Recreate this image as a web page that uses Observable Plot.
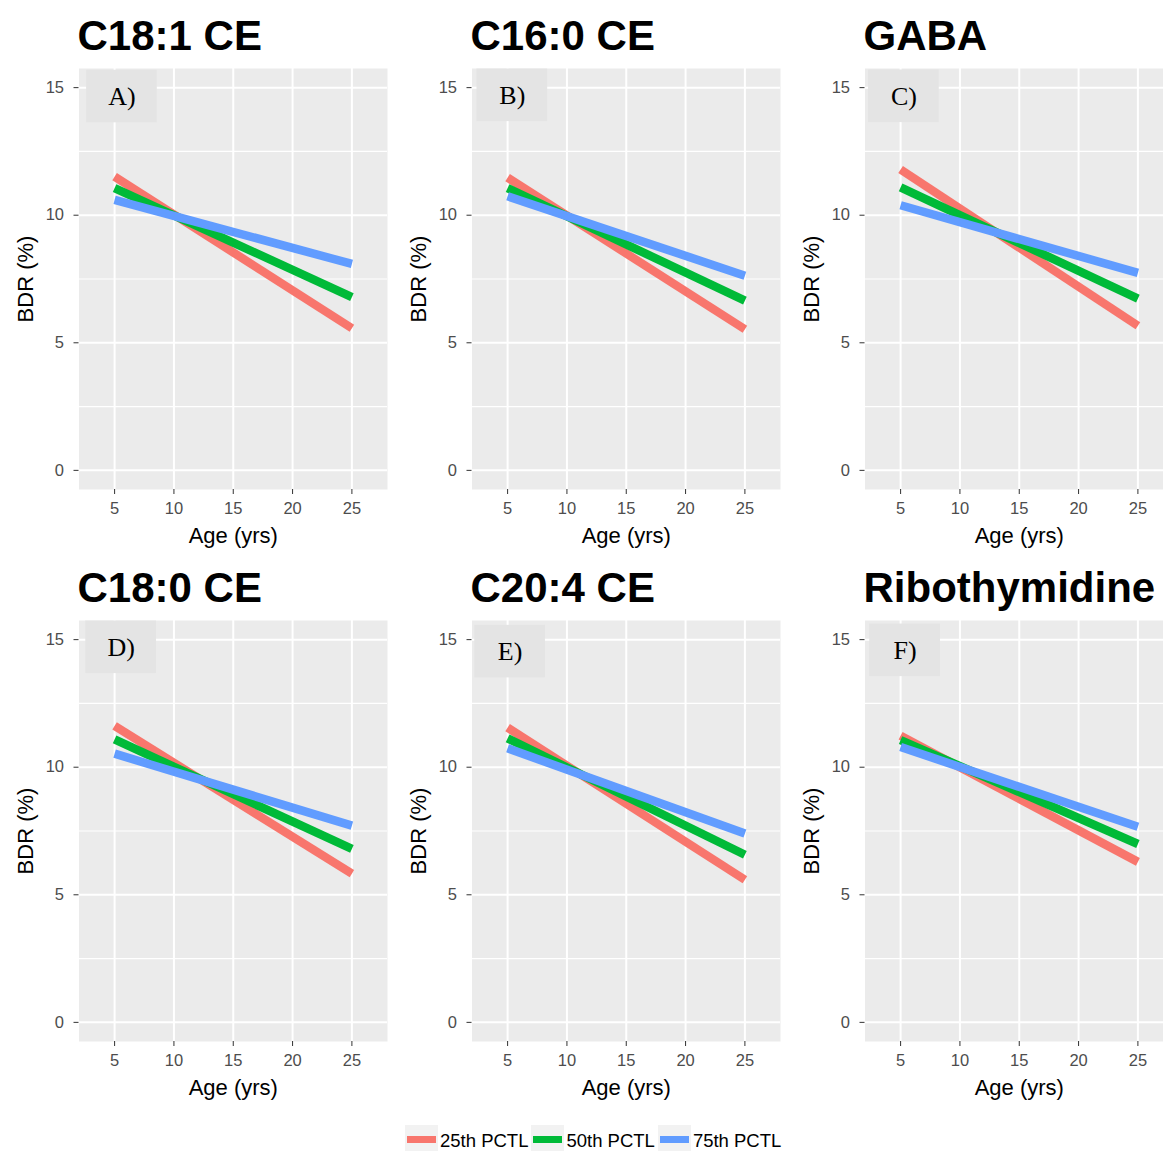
<!DOCTYPE html>
<html>
<head>
<meta charset="utf-8">
<script src="https://cdn.jsdelivr.net/npm/d3@7"></script>
<script src="https://cdn.jsdelivr.net/npm/@observablehq/plot@0.6"></script>
<style>
  html, body { margin: 0; padding: 0; background: #fff; }
  body { width: 1163px; height: 1151px; overflow: hidden; position: relative; font-family: "Liberation Sans", Arial, sans-serif; }
  .panel { position: absolute; width: 393px; height: 552px; }
  .title { position: absolute; font: bold 42px/42px "Liberation Sans", Arial, sans-serif; color: #000; white-space: nowrap; }
  .plot { position: absolute; left: 0; }
  .legend { position: absolute; top: 1123px; left: 405px; display: flex; align-items: flex-start; font: 18.5px/20px "Liberation Sans", Arial, sans-serif; color: #000; white-space: nowrap; }
  .key { width: 33px; height: 26px; background: #F2F2F2; position: relative; margin-right: 2px; margin-top: 2px; }
  .key span { position: absolute; left: 2px; right: 2px; top: 11px; height: 7px; }
  .item { display: flex; align-items: flex-start; margin-right: 3px; }
  .item .txt { padding-top: 8px; }
</style>
</head>
<body>
<script>
// ---- data ----
const panelTitles = ["C18:1 CE", "C16:0 CE", "GABA", "C18:0 CE", "C20:4 CE", "Ribothymidine"];
const panelLetters = ["A)", "B)", "C)", "D)", "E)", "F)"];
const ages = [5, 25];
const seriesNames = ["25th PCTL", "50th PCTL", "75th PCTL"];
const seriesColors = ["#F8766D", "#00BA38", "#619CFF"];
// BDR (%) at age 5 and 25 for each panel
const pct25 = [[11.51, 5.57], [11.47, 5.53], [11.79, 5.67], [11.62, 5.83], [11.55, 5.59], [11.23, 6.29]];
const pct50 = [[11.06, 6.79], [11.06, 6.65], [11.09, 6.73], [11.09, 6.80], [11.13, 6.57], [11.06, 6.99]];
const pct75 = [[10.60, 8.09], [10.74, 7.63], [10.39, 7.74], [10.53, 7.71], [10.74, 7.40], [10.79, 7.67]];
const xTicks = [5, 10, 15, 20, 25];
const yTicks = [0, 5, 10, 15];
const yMinor = [2.5, 7.5, 12.5];
// panel letter annotation centres (data units)
const labelX = [5.62, 5.40, 5.28, 5.55, 5.21, 5.38];
const labelY = [14.65, 14.70, 14.66, 14.70, 14.53, 14.58];

const seriesValues = [pct25, pct50, pct75];

const colW = 393, rowH = 552;

panelTitles.forEach((title, i) => {
  const col = i % 3, row = Math.floor(i / 3);
  const div = document.createElement("div");
  div.className = "panel";
  div.style.left = (col * colW) + "px";
  div.style.top = (row * rowH) + "px";

  const t = document.createElement("div");
  t.className = "title";
  t.textContent = title;
  t.style.left = "77.5px";
  t.style.top = "14.5px";
  div.appendChild(t);

  const rows = [];
  seriesNames.forEach((s, k) => {
    ages.forEach((a, j) => rows.push({series: s, age: a, bdr: seriesValues[k][i][j]}));
  });

  const lab = [{x: labelX[i], y: labelY[i], text: panelLetters[i]}];

  const chart = Plot.plot({
    width: colW,
    height: 491,
    marginLeft: 78.5,
    marginRight: 6,
    marginTop: 8,
    marginBottom: 62,
    style: {background: "transparent", fontFamily: "'Liberation Sans', Arial, sans-serif", overflow: "visible"},
    x: {domain: [2, 28], ticks: xTicks},
    y: {domain: [-0.75, 15.75], ticks: yTicks},
    color: {domain: seriesNames, range: seriesColors},
    marks: [
      Plot.frame({fill: "#EBEBEB", stroke: "none"}),
      Plot.ruleY(yMinor, {stroke: "#fff", strokeWidth: 1.1}),
      Plot.ruleY(yTicks, {stroke: "#fff", strokeWidth: 2}),
      Plot.ruleX(xTicks, {stroke: "#fff", strokeWidth: 2}),
      Plot.line(rows, {x: "age", y: "bdr", z: "series", stroke: "series", strokeWidth: 8.5, strokeLinecap: "butt"}),
      Plot.rect(lab, {x1: d => d.x - 2.98, x2: d => d.x + 2.98, y1: d => d.y - 1.03, y2: d => d.y + 1.03, fill: "#E4E4E4"}),
      Plot.text(lab, {x: "x", y: "y", text: "text", fontSize: 26, fontFamily: "'Liberation Serif', 'Times New Roman', serif", fill: "#000"}),
      Plot.axisX({ticks: xTicks, tickSize: 5, tickPadding: 8, fontSize: 16.5, fill: "#4D4D4D", stroke: "#333", label: null}),
      Plot.axisY({ticks: yTicks, tickSize: 5, tickPadding: 10, fontSize: 16.5, fill: "#4D4D4D", stroke: "#333", label: null}),
      Plot.text(["BDR (%)"], {frameAnchor: "left", dx: -53, rotate: -90, fontSize: 22, fill: "#000", textAnchor: "middle", lineAnchor: "middle"}),
      Plot.text(["Age (yrs)"], {frameAnchor: "bottom", dy: 46, fontSize: 22, fill: "#000", textAnchor: "middle", lineAnchor: "middle"})
    ]
  });
  chart.classList.add("plot");
  chart.style.top = "60px";
  div.appendChild(chart);
  document.body.appendChild(div);
});

// legend
const legend = document.createElement("div");
legend.className = "legend";
seriesNames.forEach((s, k) => {
  const item = document.createElement("div");
  item.className = "item";
  const key = document.createElement("div");
  key.className = "key";
  const sw = document.createElement("span");
  sw.style.background = seriesColors[k];
  key.appendChild(sw);
  const txt = document.createElement("div");
  txt.className = "txt";
  txt.textContent = s;
  item.appendChild(key);
  item.appendChild(txt);
  legend.appendChild(item);
});
document.body.appendChild(legend);
</script>
</body>
</html>
